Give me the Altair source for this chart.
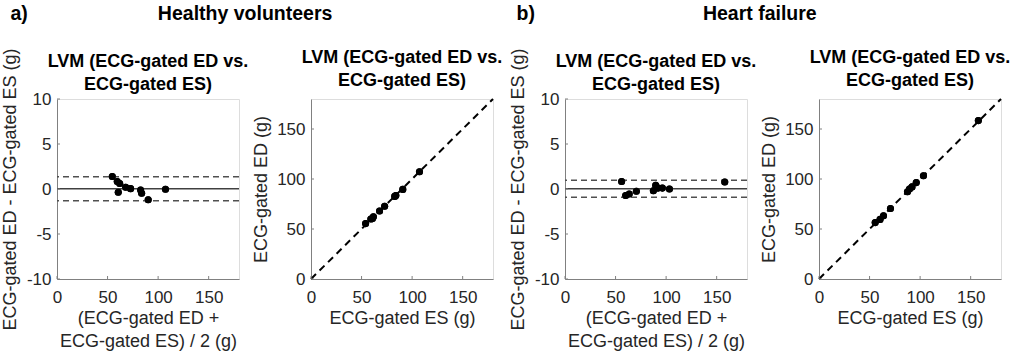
import altair as alt
import pandas as pd

# ---------------- data ----------------
# Healthy volunteers: Bland-Altman (mean, difference)
hv_mean = [54.7, 59.6, 62.0, 60.6, 67.9, 72.8, 82.7, 83.7, 90.2, 107.3]
hv_diff = [1.39, 0.84, 0.62, -0.36, 0.19, 0.04, -0.11, -0.47, -1.20, -0.03]
hv_bias = 0.02
hv_loa = [1.35, -1.31]
# Healthy volunteers: ES vs ED
hv_es = [54.0, 59.2, 61.7, 60.8, 67.8, 72.8, 82.8, 83.9, 90.8, 107.3]
hv_ed = [55.4, 60.0, 62.3, 60.4, 68.0, 72.8, 82.6, 83.5, 89.6, 107.3]

# Heart failure: Bland-Altman (mean, difference)
hf_mean = [56.0, 60.0, 63.5, 70.6, 87.4, 89.7, 92.0, 96.3, 103.3, 158.0]
hf_diff = [0.84, -0.72, -0.55, -0.25, -0.20, 0.40, 0.10, 0.10, 0.00, 0.77]
hf_bias = 0.02
hf_loa = [0.97, -0.93]
# Heart failure: ES vs ED
hf_es = [55.6, 60.4, 63.8, 70.7, 87.5, 89.5, 92.0, 96.2, 103.3, 157.6]
hf_ed = [56.4, 59.6, 63.2, 70.5, 87.3, 89.9, 92.1, 96.4, 103.3, 158.4]

x_ticks = [0, 50, 100, 150]
ba_y_ticks = [-10, -5, 0, 5, 10]
sc_y_ticks = [0, 50, 100, 150]
x_domain = [0, 180]
ba_domain = [-10, 10]
sc_domain = [0, 180]
identity = [0, 180]

NB = "\u00a0"
figure_title = ("a)" + NB * 24 + "Healthy volunteers" + NB * 34 + "b)"
                + NB * 31 + "Heart failure")
panel_title = ["LVM (ECG-gated ED vs.", "ECG-gated ES)"]
ba_xtitle = ["(ECG-gated ED +", "ECG-gated ES) / 2 (g)"]
ba_ytitle = "ECG-gated ED - ECG-gated ES (g)"
sc_xtitle = "ECG-gated ES (g)"
sc_ytitle = "ECG-gated ED (g)"

# ---------------- styling ----------------
W, H = 182, 180
FONT = "Liberation Sans"
AXIS_COLOR = "#808080"
TEXT_COLOR = "#262626"


def xaxis(title):
    return alt.Axis(values=x_ticks, title=title, ticks=False, grid=False,
                    domainColor=AXIS_COLOR, domainWidth=1,
                    labelFont=FONT, labelFontSize=17, labelColor=TEXT_COLOR,
                    labelPadding=10, labelFlush=False, labelOverlap=False,
                    labelExpr="'' + datum.value",
                    titleFont=FONT, titleFontSize=18, titleFontWeight="normal",
                    titleColor=TEXT_COLOR, titlePadding=4, titleLineHeight=23)


def yaxis(values, title, extent):
    return alt.Axis(values=values, title=title, ticks=False, grid=False,
                    domainColor=AXIS_COLOR, domainWidth=1,
                    labelFont=FONT, labelFontSize=17, labelColor=TEXT_COLOR,
                    labelPadding=6, labelFlush=False, labelOverlap=False,
                    labelExpr="'' + datum.value",
                    minExtent=extent, maxExtent=extent,
                    titleFont=FONT, titleFontSize=18, titleFontWeight="normal",
                    titleColor=TEXT_COLOR, titlePadding=7)


def ptitle(offset):
    return alt.Title(panel_title, font=FONT, fontSize=18, fontWeight="bold",
                     color="black", lineHeight=23, offset=offset,
                     anchor="middle")


def panel(df, xf, yf, xs, ys, xa, ya, yticks, extra, toff):
    pts = alt.Chart(df).mark_circle(size=50, color="black", opacity=1).encode(
        x=alt.X(xf, scale=xs, axis=xa), y=alt.Y(yf, scale=ys, axis=ya))
    xt = alt.Chart(pd.DataFrame({"t": x_ticks})).mark_rule(
        color=AXIS_COLOR, strokeWidth=1).encode(
        x=alt.X("t:Q", scale=xs, axis=xa),
        y=alt.value(H), y2=alt.value(H - 3))
    yt = alt.Chart(pd.DataFrame({"t": yticks})).mark_rule(
        color=AXIS_COLOR, strokeWidth=1).encode(
        y=alt.Y("t:Q", scale=ys, axis=ya),
        x=alt.value(0), x2=alt.value(3))
    return alt.layer(pts, *extra(xs, ys, xa, ya), xt, yt, pts).properties(
        width=W, height=H, title=ptitle(toff))


def ba_panel(mean, diff, bias, loa):
    xs = alt.Scale(domain=x_domain, nice=False, zero=False)
    ys = alt.Scale(domain=ba_domain, nice=False, zero=False)
    xa = xaxis(ba_xtitle)
    ya = yaxis(ba_y_ticks, ba_ytitle, 31)

    def extra(xs, ys, xa, ya):
        bias_rule = alt.Chart(pd.DataFrame({"v": [bias]})).mark_rule(
            color="#404040", strokeWidth=1.5).encode(
            y=alt.Y("v:Q", scale=ys, axis=ya))
        loa_rule = alt.Chart(pd.DataFrame({"v": loa})).mark_rule(
            color="#505050", strokeWidth=1.5, strokeDash=[6, 4]).encode(
            y=alt.Y("v:Q", scale=ys, axis=ya))
        return [bias_rule, loa_rule]

    df = pd.DataFrame({"m": mean, "d": diff})
    # the long y-axis title reaches 51 px above the plot; pull the title back
    return panel(df, "m:Q", "d:Q", xs, ys, xa, ya, ba_y_ticks, extra, -46)


def sc_panel(es, ed):
    xs = alt.Scale(domain=x_domain, nice=False, zero=False)
    ys = alt.Scale(domain=sc_domain, nice=False, zero=False)
    xa = xaxis(sc_xtitle)
    ya = yaxis(sc_y_ticks, sc_ytitle, 34)

    def extra(xs, ys, xa, ya):
        line = alt.Chart(pd.DataFrame({"es": identity, "ed": identity})).mark_line(
            color="black", strokeWidth=2, strokeDash=[7, 5]).encode(
            x=alt.X("es:Q", scale=xs, axis=xa),
            y=alt.Y("ed:Q", scale=ys, axis=ya))
        return [line]

    df = pd.DataFrame({"es": es, "ed": ed})
    return panel(df, "es:Q", "ed:Q", xs, ys, xa, ya, sc_y_ticks, extra, 5)


chart = alt.hconcat(
    ba_panel(hv_mean, hv_diff, hv_bias, hv_loa),
    sc_panel(hv_es, hv_ed),
    ba_panel(hf_mean, hf_diff, hf_bias, hf_loa),
    sc_panel(hf_es, hf_ed),
    spacing=72, bounds="flush",
).properties(
    title=alt.Title(figure_title, font=FONT, fontSize=19.5, fontWeight="bold",
                    color="black", anchor="start", frame="bounds", dx=10,
                    offset=23),
    padding={"left": 0, "top": 3, "right": 0, "bottom": 0}
).configure_view(stroke=None).configure(background="white")

chart.save("out.html", embed_options={"renderer": "svg", "actions": False})
